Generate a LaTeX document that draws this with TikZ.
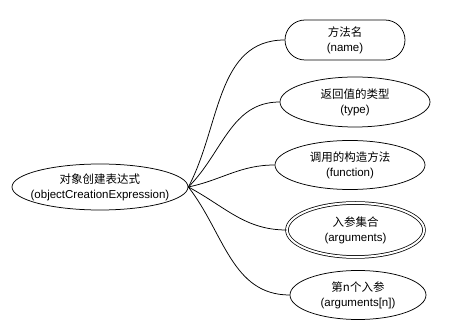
\documentclass[tikz,border=0pt]{standalone}
\usepackage{fontspec}
\usepackage{tikz}
\usetikzlibrary{shapes.geometric}
\setmainfont{Liberation Sans}
\newfontfamily\cjk{Noto Sans CJK SC}

\begin{document}
\begin{tikzpicture}[x=1pt,y=1pt,line width=0.75pt,
  txt/.style={align=center,font=\fontsize{11.5}{15}\selectfont},
  oval/.style={ellipse,draw,inner sep=0pt},
  pill/.style={rectangle,rounded corners=20pt,draw,inner sep=0pt,txt}]
\useasboundingbox (0,0) rectangle (475,330);
\node[oval,minimum width=176pt,minimum height=46pt,label={[txt]center:{\cjk 对象创建表达式}\\(objectCreationExpression)}] (expr) at (100,143) {};
\node[pill,minimum width=120pt,minimum height=40pt] (name) at (345,290) {{\cjk 方法名}\\(name)};
\node[oval,minimum width=150pt,minimum height=50pt,label={[txt]center:{\cjk 返回值的类型}\\(type)}] (type) at (355,228) {};
\node[oval,minimum width=150pt,minimum height=49pt,label={[txt]center:{\cjk 调用的构造方法}\\(function)}] (func) at (350,165) {};
\node[oval,double,double distance=2pt,minimum width=137pt,minimum height=54pt,label={[txt]center:{\cjk 入参集合}\\(arguments)}] (args) at (355.5,100) {};
\node[oval,minimum width=136pt,minimum height=49pt,label={[txt]center:{\cjk 第n个入参}\\(arguments[n])}] (argn) at (358,35) {};
\draw (expr.east) to[out=62,in=180] (name.west);
\draw (expr.east) to[out=45,in=180] (type.west);
\draw (expr.east) to[out=12,in=180] (func.west);
\draw (expr.east) to[out=-28,in=180] (args.west);
\draw (expr.east) to[out=-52,in=180] (argn.west);
\end{tikzpicture}
\end{document}
